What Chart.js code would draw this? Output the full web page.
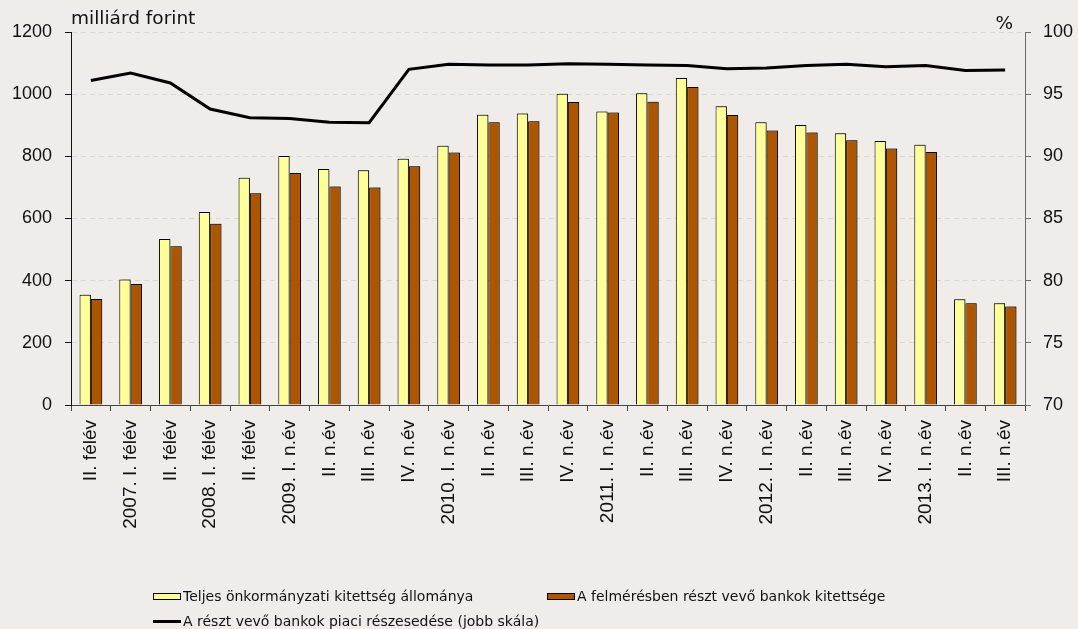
<!DOCTYPE html>
<html lang="hu">
<head>
<meta charset="utf-8">
<title>Önkormányzati kitettség</title>
<script src="https://cdn.jsdelivr.net/npm/chart.js@4.4.0/dist/chart.umd.min.js"></script>
<style>
  body { margin: 0; background: #efece9; }
  #wrap { position: relative; width: 1078px; height: 629px; }
  .item {
    position: absolute; height: 16px; display: flex; align-items: center;
    font: 14px "DejaVu Sans", sans-serif; color: #111; white-space: nowrap;
  }
  .box { width: 28px; height: 7px; box-sizing: border-box; border: 1px solid #000; margin-right: 2px; }
  .dash { width: 28px; height: 3px; background: #000; margin-right: 2px; }
</style>
</head>
<body>
<div id="wrap">
  <canvas id="bars" width="1078" height="629"></canvas>
  <div class="item" style="left:153px; top:588px;"><span class="box" style="background:#ffff99"></span>Teljes önkormányzati kitettség állománya</div>
  <div class="item" style="left:547px; top:588px;"><span class="box" style="background:#ae5500"></span>A felmérésben részt vevő bankok kitettsége</div>
  <div class="item" style="left:153px; top:613px;"><span class="dash"></span>A részt vevő bankok piaci részesedése (jobb skála)</div>
</div>
<script>
// félévek, majd negyedévek
const labels = [
  'II. félév', '2007. I. félév', 'II. félév', '2008. I. félév', 'II. félév',
  '2009. I. n.év', 'II. n.év', 'III. n.év', 'IV. n.év',
  '2010. I. n.év', 'II. n.év', 'III. n.év', 'IV. n.év',
  '2011. I. n.év', 'II. n.év', 'III. n.év', 'IV. n.év',
  '2012. I. n.év', 'II. n.év', 'III. n.év', 'IV. n.év',
  '2013. I. n.év', 'II. n.év', 'III. n.év'
];

// milliárd forint
const totalExposure = [355, 404, 534, 621, 731, 801, 759, 755, 792, 834, 934, 938,
  1001, 944, 1003, 1052, 961, 910, 901, 874, 849, 837, 340, 327];
const bankExposure = [341, 389, 511, 583, 681, 746, 703, 700, 768, 812, 910, 913,
  975, 941, 976, 1023, 933, 883, 877, 852, 825, 814, 327, 317];

// %, jobb skála
const marketShare = [96.1, 96.7, 95.9, 93.8, 93.1, 93.05, 92.75, 92.7, 97.0, 97.4, 97.35, 97.35,
  97.45, 97.4, 97.35, 97.3, 97.05, 97.1, 97.3, 97.4, 97.2, 97.3, 96.9, 96.95];

const leftTicks = { min: 0, max: 1200, step: 200 };
const rightTicks = { min: 70, max: 100, step: 5 };

const tickFont = { family: 'Liberation Sans', size: 18 };

// egység feliratok a tengelyek fölött
const unitLabels = {
  id: 'unitLabels',
  afterDraw(chart) {
    const { ctx, chartArea } = chart;
    ctx.save();
    ctx.fillStyle = '#111';
    ctx.font = '18.5px "DejaVu Sans"';
    ctx.textAlign = 'left';
    ctx.fillText('milliárd forint', chartArea.left, 24);
    ctx.textAlign = 'right';
    ctx.fillText('%', chartArea.right - 12, 29);
    ctx.restore();
  }
};

// enyhe árnyék az oszlopok mögött
const barShadow = {
  id: 'barShadow',
  beforeDatasetDraw(chart, args) {
    if (args.meta.type !== 'bar') return;
    const ctx = chart.ctx;
    ctx.save();
    ctx.shadowColor = 'rgba(0,0,0,0.35)';
    ctx.shadowBlur = 2;
    ctx.shadowOffsetX = 1.5;
    ctx.shadowOffsetY = -1;
  },
  afterDatasetDraw(chart, args) {
    if (args.meta.type !== 'bar') return;
    chart.ctx.restore();
  }
};

const config = {
  type: 'bar',
  data: {
    labels: labels,
    datasets: [
      {
        type: 'line',
        label: 'A részt vevő bankok piaci részesedése (jobb skála)',
        data: marketShare,
        yAxisID: 'y1',
        borderColor: '#000',
        borderWidth: 3,
        pointRadius: 0,
        tension: 0,
        order: 0
      },
      {
        label: 'Teljes önkormányzati kitettség állománya',
        data: totalExposure,
        yAxisID: 'y',
        backgroundColor: '#ffff99',
        borderColor: '#000',
        borderWidth: 1,
        categoryPercentage: 0.57,
        barPercentage: 1,
        order: 1
      },
      {
        label: 'A felmérésben részt vevő bankok kitettsége',
        data: bankExposure,
        yAxisID: 'y',
        backgroundColor: '#ae5500',
        borderColor: '#000',
        borderWidth: 1,
        categoryPercentage: 0.57,
        barPercentage: 1,
        order: 1
      }
    ]
  },
  options: {
    responsive: false,
    animation: false,
    layout: { padding: { top: 32, left: 0, right: 0, bottom: 0 } },
    plugins: {
      legend: { display: false },
      tooltip: { enabled: false }
    },
    scales: {
      x: {
        offset: true,
        grid: { offset: true, drawOnChartArea: false, tickLength: 6, tickColor: '#444' },
        border: { color: '#444' },
        ticks: { autoSkip: false, minRotation: 90, maxRotation: 90, padding: 9, color: '#111', font: { family: 'Liberation Sans', size: 19 } },
        afterFit: (s) => { s.height = 224; }
      },
      y: {
        position: 'left',
        min: leftTicks.min,
        max: leftTicks.max,
        ticks: { stepSize: leftTicks.step, padding: 13, color: '#111', font: tickFont, callback: (v) => String(v) },
        grid: {
          color: (c) => c.tick && c.tick.value === 0 ? 'rgba(0,0,0,0)' : '#d9d6d3',
          tickColor: '#111',
          tickLength: 6
        },
        border: { color: '#111', dash: [5, 4] },
        afterFit: (s) => { s.width = 71; }
      },
      y1: {
        position: 'right',
        min: rightTicks.min,
        max: rightTicks.max,
        ticks: { stepSize: rightTicks.step, padding: 12, color: '#111', font: tickFont, callback: (v) => String(v) },
        grid: { drawOnChartArea: false, tickColor: '#6a6a6a', tickLength: 6 },
        border: { color: '#6a6a6a' },
        afterFit: (s) => { s.width = 53; }
      }
    }
  },
  plugins: [unitLabels, barShadow]
};

const barsCtx = document.getElementById('bars');
window.myBars = new Chart(barsCtx, config);
</script>
</body>
</html>
